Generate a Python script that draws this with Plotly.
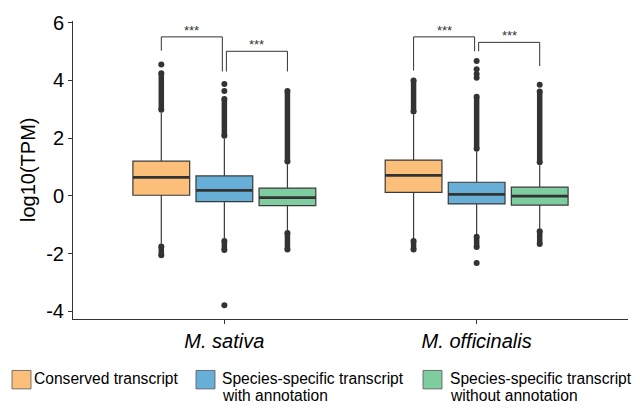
import plotly.graph_objects as go

# Species groups on the x axis
species = ["M. sativa", "M. officinalis"]

# Transcript classes (one box per class within each species)
classes = [
    "Conserved transcript",
    "Species-specific transcript with annotation",
    "Species-specific transcript without annotation",
]
legend_lines = [
    ["Conserved transcript"],
    ["Species-specific transcript", "with annotation"],
    ["Species-specific transcript", "without annotation"],
]
colors = ["#FBBF79", "#67AFD7", "#7DCDA0"]

# y axis ticks (hyphen-minus labels)
y_ticks = [-4, -2, 0, 2, 4, 6]
y_tick_text = ["-4", "-2", "0", "2", "4", "6"]

# Box statistics of log10(TPM), per class, ordered as species
q1 = [[0.02, 0.12], [-0.20, -0.28], [-0.34, -0.32]]
median = [[0.64, 0.71], [0.19, 0.05], [-0.06, -0.01]]
q3 = [[1.20, 1.24], [0.69, 0.47], [0.27, 0.30]]
lowerfence = [[-1.66, -1.47], [-1.47, -1.32], [-1.19, -1.13]]
upperfence = [[2.88, 2.82], [1.98, 1.53], [1.09, 1.06]]

# Dense runs of outliers (from, to) above and below the whiskers
upper_runs = [[(2.98, 4.25), (2.92, 4.00)],
              [(2.08, 3.36), (1.63, 3.43)],
              [(1.19, 3.63), (1.16, 3.62)]]
lower_runs = [[(-1.76, -2.06), (-1.57, -1.86)],
              [(-1.57, -1.88), (-1.42, -1.77)],
              [(-1.29, -1.86), (-1.23, -1.67)]]
# Isolated outliers
single_outliers = [[[4.55], []],
                   [[3.63, 3.88, -3.79], [4.09, 4.22, 4.39, 4.67, -2.33]],
                   [[], [3.85]]]

# Wilcoxon comparisons: (species index, class a, class b, label)
comparisons = [(0, 0, 1, "***"), (0, 1, 2, "***"),
               (1, 0, 1, "***"), (1, 1, 2, "***")]
# bracket geometry: top, left leg end, right leg end
bracket_levels = [(5.51, 5.03, 4.31), (5.01, 4.31, 4.31),
                  (5.51, 4.34, 5.01), (5.32, 5.01, 4.50)]

DARK = "#333333"
FONT = "Liberation Sans, Arial, Helvetica, sans-serif"
SLOT = 0.25           # dodge spacing between classes
HALF_BOX = 0.1125     # half box width in x units
x_pos = list(range(len(species)))


def centre(si, ci):
    return x_pos[si] + (ci - 1) * SLOT


fig = go.Figure()

for ci, name in enumerate(classes):
    fig.add_trace(go.Box(
        x=x_pos, q1=q1[ci], median=median[ci], q3=q3[ci],
        lowerfence=lowerfence[ci], upperfence=upperfence[ci],
        name=name, fillcolor=colors[ci],
        line=dict(color="#3a3a3a", width=1.2),
        whiskerwidth=0, boxpoints=False, showlegend=False,
        hoverinfo="skip",
    ))

# thicker median bars
mx, my = [], []
for ci in range(len(classes)):
    for si in range(len(species)):
        c = centre(si, ci)
        mx += [c - HALF_BOX, c + HALF_BOX, None]
        my += [median[ci][si], median[ci][si], None]
fig.add_trace(go.Scatter(x=mx, y=my, mode="lines",
                         line=dict(color=DARK, width=2.7),
                         showlegend=False, hoverinfo="skip"))

# outlier runs and single outliers
lx, ly, px, py = [], [], [], []
for ci in range(len(classes)):
    for si in range(len(species)):
        c = centre(si, ci)
        for lo, hi in (upper_runs[ci][si], lower_runs[ci][si]):
            lx += [c, c, None]
            ly += [lo, hi, None]
            px += [c, c]
            py += [lo, hi]
        for v in single_outliers[ci][si]:
            px.append(c)
            py.append(v)
fig.add_trace(go.Scatter(x=lx, y=ly, mode="lines",
                         line=dict(color=DARK, width=5.5),
                         showlegend=False, hoverinfo="skip"))
fig.add_trace(go.Scatter(x=px, y=py, mode="markers",
                         marker=dict(color=DARK, size=6),
                         showlegend=False, hoverinfo="skip"))

# significance brackets
GAP = 0.008
shapes = []
annotations = []
for (si, a, b, label), (top, yl, yr) in zip(comparisons, bracket_levels):
    xa = centre(si, a) + (GAP if a == 1 else 0)
    xb = centre(si, b) - (GAP if b == 1 else 0)
    shapes.append(dict(type="path", xref="x", yref="y",
                       path=f"M {xa},{yl} L {xa},{top} L {xb},{top} L {xb},{yr}",
                       line=dict(color=DARK, width=1)))
    annotations.append(dict(x=(xa + xb) / 2, y=top, xref="x", yref="y",
                            text=label, showarrow=False, yanchor="bottom",
                            yshift=-3, font=dict(family=FONT, size=13,
                                                 color=DARK)))

# legend drawn below the panel
L, R, T, B = 73, 12, 12, 91
W, H = 640, 410
pw, ph = W - L - R, H - T - B


def px2x(p):
    return (p - L) / pw


def px2y(p):
    return (H - B - p) / ph


key_left = [12, 196, 423]
text_left = [32, 220, 448]
for i in range(len(classes)):
    shapes.append(dict(type="rect", xref="paper", yref="paper",
                       x0=px2x(key_left[i]), x1=px2x(key_left[i] + 19),
                       y0=px2y(372), y1=px2y(391),
                       fillcolor=colors[i],
                       line=dict(color="#555555", width=0.8)))
    for k, line in enumerate(legend_lines[i]):
        annotations.append(dict(x=px2x(text_left[i]), y=px2y(380 + 18 * k),
                                xref="paper", yref="paper", text=line,
                                showarrow=False, xanchor="left",
                                yanchor="middle",
                                font=dict(family=FONT, size=15.6,
                                          color="black")))

annotations.append(dict(x=px2x(28), y=0.5, xref="paper", yref="paper",
                        text="log10(TPM)", textangle=-90, showarrow=False,
                        xanchor="center", yanchor="middle",
                        font=dict(family=FONT, size=20, color="black")))

fig.update_layout(
    width=W, height=H,
    margin=dict(l=L, r=R, t=T, b=B),
    paper_bgcolor="white", plot_bgcolor="white",
    boxmode="group", boxgap=0.25, boxgroupgap=0.1,
    shapes=shapes, annotations=annotations,
    showlegend=False,
)
fig.update_xaxes(
    range=[-0.6, 1.6], tickvals=x_pos, ticktext=species,
    tickfont=dict(family=FONT, size=20, color="black", style="italic"),
    showline=True, linecolor=DARK, linewidth=1,
    ticks="outside", ticklen=4, tickcolor=DARK,
    showgrid=False, zeroline=False,
)
fig.update_yaxes(
    range=[-4.27, 6.06], tickvals=y_ticks, ticktext=y_tick_text,
    tickfont=dict(family=FONT, size=20, color="black"),
    showline=True, linecolor=DARK, linewidth=1,
    ticks="outside", ticklen=4, tickcolor=DARK,
    showgrid=False, zeroline=False,
)

fig.write_html("out.html")
